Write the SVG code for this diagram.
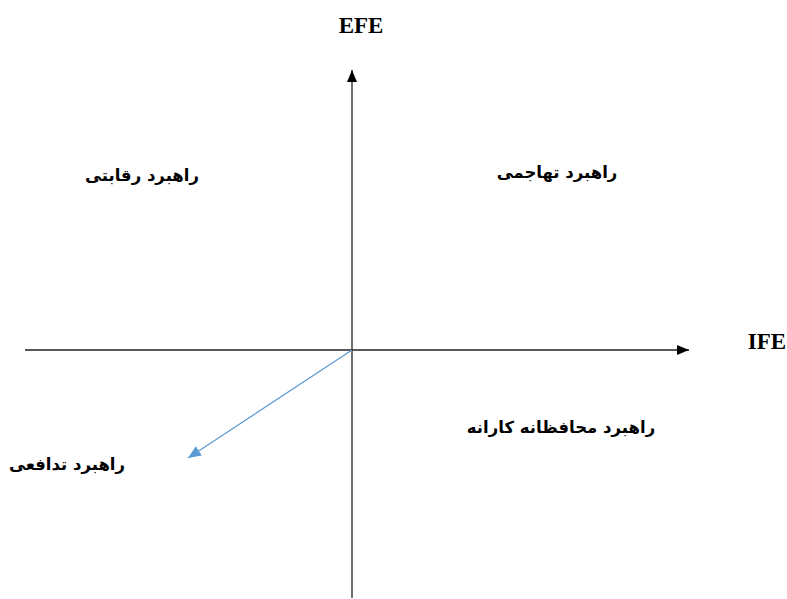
<svg xmlns="http://www.w3.org/2000/svg" width="787" height="599" viewBox="0 0 787 599">
<style>
.axis{stroke:#222;stroke-width:1.3;fill:none}
.lbl{font-family:"Liberation Serif","Times New Roman",serif;font-weight:bold;font-size:23px;fill:#000}
.fa{font-family:"DejaVu Sans","Noto Sans",sans-serif;font-weight:bold;font-size:16.5px;fill:#000;direction:rtl;unicode-bidi:embed}
</style>
<defs>
<marker id="ah" markerWidth="12" markerHeight="10" refX="12" refY="5" orient="auto" markerUnits="userSpaceOnUse">
<path d="M0,0 L12,5 L0,10 Z" fill="#000"/>
</marker>
<marker id="bh" markerWidth="13" markerHeight="11" refX="13" refY="5.5" orient="auto" markerUnits="userSpaceOnUse">
<path d="M0,0 L13,5.5 L0,11 Z" fill="#5B9BD5"/>
</marker>
</defs>
<g id="connectors">
<line class="axis" x1="352" y1="598" x2="352" y2="70" marker-end="url(#ah)"/>
<line class="axis" x1="25" y1="350" x2="689" y2="350" marker-end="url(#ah)"/>
<line x1="352" y1="350" x2="188" y2="458" stroke="#5B9BD5" stroke-width="1.3" marker-end="url(#bh)"/>
</g>
<g id="efe"><text class="lbl" x="361" y="33" text-anchor="middle">EFE</text></g>
<g id="ife"><text class="lbl" x="767" y="349" text-anchor="middle">IFE</text></g>
<g id="competitive"><text class="fa" x="142" y="181" text-anchor="middle">راهبرد رقابتی</text></g>
<g id="aggressive"><text class="fa" x="557" y="178" text-anchor="middle">راهبرد تهاجمی</text></g>
<g id="conservative"><text class="fa" x="561" y="433" text-anchor="middle">راهبرد محافظانه کارانه</text></g>
<g id="defensive"><text class="fa" x="67" y="470" text-anchor="middle">راهبرد تدافعی</text></g>
</svg>
